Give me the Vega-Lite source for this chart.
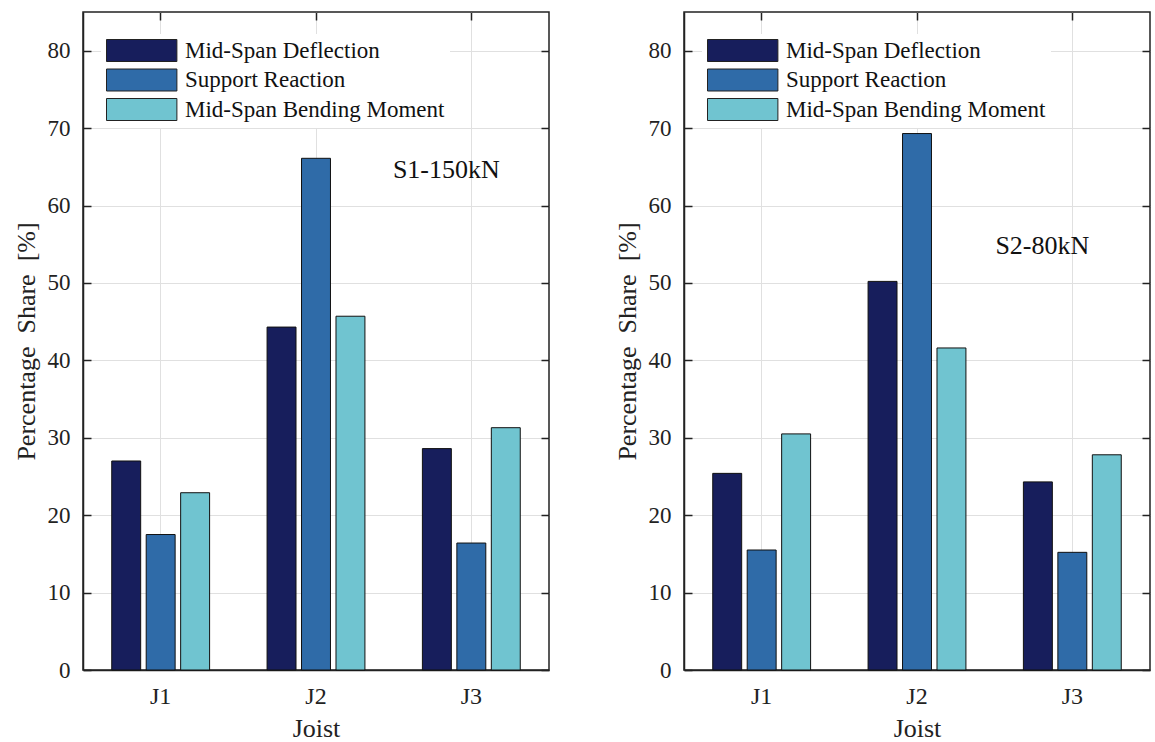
{
  "$schema": "https://vega.github.io/schema/vega-lite/v6.json",
  "background": "white",
  "padding": {"left": 12, "top": 10, "right": 5, "bottom": 0},
  "config": {
    "font": "Liberation Serif",
    "view": {"stroke": "#222222", "strokeWidth": 1.5},
    "axis": {
      "domainColor": "#222222",
      "domainWidth": 1.5,
      "tickColor": "#222222",
      "tickWidth": 1.5,
      "gridColor": "#e0e0e0",
      "gridWidth": 1,
      "labelColor": "#222222",
      "titleColor": "#222222",
      "labelFont": "Liberation Serif",
      "titleFont": "Liberation Serif",
      "titleFontWeight": "normal"
    },
    "legend": {"labelFont": "Liberation Serif"}
  },
  "datasets": {
    "bars": [
      {"panel": "S1", "joist": "J1", "quantity": "Mid-Span Deflection", "share": 27.0},
      {"panel": "S1", "joist": "J1", "quantity": "Support Reaction", "share": 17.5},
      {"panel": "S1", "joist": "J1", "quantity": "Mid-Span Bending Moment", "share": 22.9},
      {"panel": "S1", "joist": "J2", "quantity": "Mid-Span Deflection", "share": 44.3},
      {"panel": "S1", "joist": "J2", "quantity": "Support Reaction", "share": 66.1},
      {"panel": "S1", "joist": "J2", "quantity": "Mid-Span Bending Moment", "share": 45.7},
      {"panel": "S1", "joist": "J3", "quantity": "Mid-Span Deflection", "share": 28.6},
      {"panel": "S1", "joist": "J3", "quantity": "Support Reaction", "share": 16.4},
      {"panel": "S1", "joist": "J3", "quantity": "Mid-Span Bending Moment", "share": 31.3},
      {"panel": "S2", "joist": "J1", "quantity": "Mid-Span Deflection", "share": 25.4},
      {"panel": "S2", "joist": "J1", "quantity": "Support Reaction", "share": 15.5},
      {"panel": "S2", "joist": "J1", "quantity": "Mid-Span Bending Moment", "share": 30.5},
      {"panel": "S2", "joist": "J2", "quantity": "Mid-Span Deflection", "share": 50.2},
      {"panel": "S2", "joist": "J2", "quantity": "Support Reaction", "share": 69.3},
      {"panel": "S2", "joist": "J2", "quantity": "Mid-Span Bending Moment", "share": 41.6},
      {"panel": "S2", "joist": "J3", "quantity": "Mid-Span Deflection", "share": 24.3},
      {"panel": "S2", "joist": "J3", "quantity": "Support Reaction", "share": 15.2},
      {"panel": "S2", "joist": "J3", "quantity": "Mid-Span Bending Moment", "share": 27.8}
    ],
    "notes": [
      {"panel": "S1", "joist": "J3", "share": 64.6, "label": "S1-150kN"},
      {"panel": "S2", "joist": "J3", "share": 54.8, "label": "S2-80kN"}
    ]
  },
  "resolve": {"scale": {"color": "independent"}, "legend": {"color": "independent"}},
  "spacing": 62,
  "hconcat": [
    {
      "width": 466,
      "height": 658,
      "resolve": {"axis": {"x": "independent", "y": "independent"}},
      "layer": [
        {
          "data": {"name": "bars"},
          "transform": [{"filter": "datum.panel === 'S1'"}],
          "mark": {"type": "bar", "stroke": "#111111", "strokeWidth": 1},
          "encoding": {
            "x": {
              "field": "joist", "type": "nominal", "sort": ["J1", "J2", "J3"],
              "scale": {"paddingInner": 0.37, "paddingOuter": 0.185},
              "axis": {"title": "Joist", "labelAngle": 0, "labelFontSize": 24, "titleFontSize": 26, "labelPadding": 22, "titlePadding": 7, "tickSize": -8, "grid": true, "bandPosition": 0.5}
            },
            "xOffset": {
              "field": "quantity", "type": "nominal",
              "sort": ["Mid-Span Deflection", "Support Reaction", "Mid-Span Bending Moment"],
              "scale": {"paddingInner": 0.16, "paddingOuter": 0}
            },
            "y": {
              "field": "share", "type": "quantitative",
              "scale": {"domain": [0, 85], "nice": false},
              "axis": {"title": "Percentage\u00a0 Share\u00a0 [%]", "values": [0, 10, 20, 30, 40, 50, 60, 70, 80], "labelFontSize": 23, "titleFontSize": 26, "labelPadding": 21, "titlePadding": 8, "tickSize": -8, "grid": true}
            },
            "color": {
              "field": "quantity", "type": "nominal",
              "sort": ["Mid-Span Deflection", "Support Reaction", "Mid-Span Bending Moment"],
              "scale": {"domain": ["Mid-Span Deflection", "Support Reaction", "Mid-Span Bending Moment"], "range": ["#171e5c", "#2f6ba8", "#70c4d0"]},
              "legend": {
                "title": null, "orient": "none", "legendX": 18, "legendY": 22,
                "padding": 5, "fillColor": "white", "strokeColor": null,
                "symbolType": "M-1,-1H5.4V1H-1Z", "symbolSize": 484,
                "symbolStrokeColor": "#222222", "symbolStrokeWidth": 1, "symbolOpacity": 1,
                "labelFont": "Liberation Serif", "labelFontSize": 23, "labelColor": "#111111", "labelOffset": 56, "labelLimit": 500, "rowPadding": 2.5
              }
            }
          }
        },
        {
          "data": {"name": "notes"},
          "transform": [{"filter": "datum.panel === 'S1'"}],
          "mark": {"type": "text", "fontSize": 26, "font": "Liberation Serif", "color": "#111111", "dx": -25},
          "encoding": {
            "x": {"field": "joist", "type": "nominal", "axis": {"orient": "top", "labels": false, "title": null, "tickSize": -8, "grid": false, "domain": false, "bandPosition": 0.5}},
            "y": {"field": "share", "type": "quantitative", "axis": {"orient": "right", "labels": false, "title": null, "tickSize": -8, "grid": false, "domain": false, "values": [0, 10, 20, 30, 40, 50, 60, 70, 80]}},
            "text": {"field": "label"}
          }
        }
      ]
    },
    {
      "width": 466,
      "height": 658,
      "resolve": {"axis": {"x": "independent", "y": "independent"}},
      "layer": [
        {
          "data": {"name": "bars"},
          "transform": [{"filter": "datum.panel === 'S2'"}],
          "mark": {"type": "bar", "stroke": "#111111", "strokeWidth": 1},
          "encoding": {
            "x": {
              "field": "joist", "type": "nominal", "sort": ["J1", "J2", "J3"],
              "scale": {"paddingInner": 0.37, "paddingOuter": 0.185},
              "axis": {"title": "Joist", "labelAngle": 0, "labelFontSize": 24, "titleFontSize": 26, "labelPadding": 22, "titlePadding": 7, "tickSize": -8, "grid": true, "bandPosition": 0.5}
            },
            "xOffset": {
              "field": "quantity", "type": "nominal",
              "sort": ["Mid-Span Deflection", "Support Reaction", "Mid-Span Bending Moment"],
              "scale": {"paddingInner": 0.16, "paddingOuter": 0}
            },
            "y": {
              "field": "share", "type": "quantitative",
              "scale": {"domain": [0, 85], "nice": false},
              "axis": {"title": "Percentage\u00a0 Share\u00a0 [%]", "values": [0, 10, 20, 30, 40, 50, 60, 70, 80], "labelFontSize": 23, "titleFontSize": 26, "labelPadding": 21, "titlePadding": 8, "tickSize": -8, "grid": true}
            },
            "color": {
              "field": "quantity", "type": "nominal",
              "sort": ["Mid-Span Deflection", "Support Reaction", "Mid-Span Bending Moment"],
              "scale": {"domain": ["Mid-Span Deflection", "Support Reaction", "Mid-Span Bending Moment"], "range": ["#171e5c", "#2f6ba8", "#70c4d0"]},
              "legend": {
                "title": null, "orient": "none", "legendX": 18, "legendY": 22,
                "padding": 5, "fillColor": "white", "strokeColor": null,
                "symbolType": "M-1,-1H5.4V1H-1Z", "symbolSize": 484,
                "symbolStrokeColor": "#222222", "symbolStrokeWidth": 1, "symbolOpacity": 1,
                "labelFont": "Liberation Serif", "labelFontSize": 23, "labelColor": "#111111", "labelOffset": 56, "labelLimit": 500, "rowPadding": 2.5
              }
            }
          }
        },
        {
          "data": {"name": "notes"},
          "transform": [{"filter": "datum.panel === 'S2'"}],
          "mark": {"type": "text", "fontSize": 26, "font": "Liberation Serif", "color": "#111111", "dx": -30},
          "encoding": {
            "x": {"field": "joist", "type": "nominal", "axis": {"orient": "top", "labels": false, "title": null, "tickSize": -8, "grid": false, "domain": false, "bandPosition": 0.5}},
            "y": {"field": "share", "type": "quantitative", "axis": {"orient": "right", "labels": false, "title": null, "tickSize": -8, "grid": false, "domain": false, "values": [0, 10, 20, 30, 40, 50, 60, 70, 80]}},
            "text": {"field": "label"}
          }
        }
      ]
    }
  ]
}
